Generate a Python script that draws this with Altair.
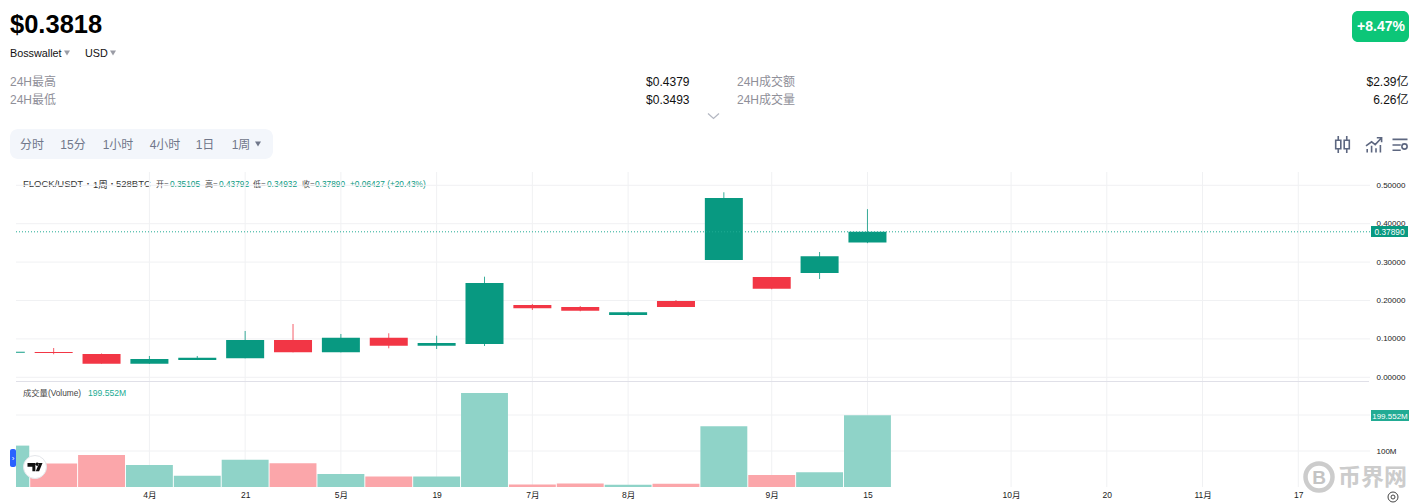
import altair as alt
import pandas as pd

FONT = "Liberation Sans, Noto Sans CJK SC, sans-serif"
UP, DOWN = "#089981", "#F23645"
UP_V, DOWN_V = "#8fd3c8", "#fba6aa"
GRID = "#f0f1f3"

# ---------- data ----------
idx = list(range(19))
opens = [.0640,.0660,.0607,.0354,.0450,.0495,.0971,.0650,.1030,.0823,.0867,.1883,.1830,.1622,.1987,.3055,.2612,.2716,.35105]
closes = [.0665,.0630,.0354,.0477,.0510,.0971,.0650,.1030,.0823,.0893,.2456,.1797,.1734,.1693,.1831,.4669,.2307,.3151,.37890]
highs = [.0665,.0763,.0620,.0555,.0555,.1206,.1388,.1128,.1146,.1083,.2620,.1909,.1857,.1708,.2013,.4818,.2612,.3263,.43792]
lows = [.0640,.0600,.0354,.0350,.0450,.0495,.0650,.0650,.0755,.0737,.0815,.1753,.1719,.1596,.1831,.3055,.2292,.2560,.34932]
volumes = [115,65,89,61,31,76,66,36,29.5,29.5,261,7,9.5,6,9,169,33,41,199.552]
price_ticks = [0,.1,.2,.3,.4,.5]
vol_ticks = [0,100,200]
last_close = .37890
x_tick_idx = [3,5,7,9,11,13,16,18,21,23,25,27]
x_tick_txt = ["4月","21","5月","19","7月","8月","9月","15","10月","20","11月","17"]

df = pd.DataFrame({"i":idx,"o":opens,"c":closes,"h":highs,"l":lows,"v":volumes})
df["up"] = df.c >= df.o
df["bl"] = df.i - .397
df["br"] = df.i + .397
df["vl"] = df.i - .49
df["vr"] = df.i + .49
one = pd.DataFrame({"a":[0]})

W, H = 1401, 496
# page px -> chart px is -8
BAR_STEP, BAR_BASE = 47.87, 5.8
xs = alt.Scale(domain=[(16-BAR_BASE)/BAR_STEP,(1367-BAR_BASE)/BAR_STEP], range=[8,1359], clamp=True, nice=False, zero=False)
ps = alt.Scale(domain=[0,.5], range=[369.3,177.3], nice=False, zero=False)
vs = alt.Scale(domain=[0,200], range=[479,407], nice=False, zero=False)
P = lambda f: alt.Y(f, type="quantitative", scale=ps, axis=None)
V = lambda f: alt.Y(f, type="quantitative", scale=vs, axis=None)
colr = alt.Color("up:N", legend=None, scale=alt.Scale(domain=[True,False], range=[UP,DOWN]))
colv = alt.Color("up:N", legend=None, scale=alt.Scale(domain=[True,False], range=[UP_V,DOWN_V]))

lookup = "{" + ",".join(f"'{i}':'{t}'" for i,t in zip(x_tick_idx,x_tick_txt)) + "}"
x_axis = alt.Axis(values=x_tick_idx, labelExpr=f"{lookup}[''+datum.value]", grid=False, domain=False, ticks=False,
                  labelFont=FONT, labelFontSize=8.5, labelColor="#222", offset=-17, labelPadding=3, labelFlush=False,
                  labelOverlap=False, title=None)
X = lambda f: alt.X(f, type="quantitative", scale=xs, title=None, axis=x_axis)

def lab(t,x,y,size=12,color="#111",weight="normal",align="left",font=FONT):
    return alt.Chart(one).mark_text(text=t,x=x-8,y=y-8,fontSize=size,color=color,fontWeight=weight,align=align,baseline="alphabetic",font=font)
def box(x1,y1,x2,y2,color,r=0):
    return alt.Chart(one).mark_rect(color=color,cornerRadius=r).encode(x=alt.value(x1-8),x2=alt.value(x2-8),y=alt.value(y1-8),y2=alt.value(y2-8))
def sym(shape,x,y,px,fill=None,stroke=None,sw=1.2):
    kw = dict(shape=shape,x=x-8,y=y-8,size=px*px,opacity=1)
    if fill: kw.update(fill=fill,filled=True,strokeWidth=0)
    if stroke: kw.update(stroke=stroke,strokeWidth=sw,filled=False)
    if fill and stroke: kw.update(fill=fill,filled=True,stroke=stroke,strokeWidth=sw)
    return alt.Chart(one).mark_point(**kw)

layers = []
GR = "#8f8f99"; TX = "#111"; BT = "#70778a"; IC = "#5d6780"
layers += [
 lab("$0.3818",10,33,25.5,"#000","bold"),
 lab("Bosswallet",10,57,10.8,TX), sym("triangle-down",67,53,6,fill="#9a9ca5"),
 lab("USD",85,57,10.8,TX), sym("triangle-down",113,53,6,fill="#9a9ca5"),
 box(1352,11,1409,42,"#0cc678",6),
 lab("+8.47%",1381,31,14,"#fff","bold","center"),
 lab("24H最高",10,86,12,GR), lab("24H最低",10,104,12,GR),
 lab("$0.4379",689.5,86,12,TX,align="right"), lab("$0.3493",689.5,104,12,TX,align="right"),
 lab("24H成交额",737,86,12,GR), lab("24H成交量",737,104,12,GR),
 lab("$2.39亿",1408.5,86,12,TX,align="right"), lab("6.26亿",1408.5,104,12,TX,align="right"),
 sym("M -1 -0.45 L 0 0.45 L 1 -0.45",713.5,116,11,stroke="#b4b8c2",sw=1.3),
 box(10,129,273,159,"#f3f6fb",8),
]
for t,x in zip(["分时","15分","1小时","4小时","1日","1周"],[32,73,118,165,205,241]):
    layers.append(lab(t,x,149,12,BT,align="center"))
layers.append(sym("triangle-down",258,144,6,fill=BT))
candle = ("M -0.5 -1 L -0.5 -0.5 M -0.5 0.5 L -0.5 1 M -0.8 -0.5 L -0.2 -0.5 L -0.2 0.5 L -0.8 0.5 Z "
          "M 0.5 -1 L 0.5 -0.5 M 0.5 0.5 L 0.5 1 M 0.2 -0.5 L 0.8 -0.5 L 0.8 0.5 L 0.2 0.5 Z")
trend = "M -1 0.1 L -0.3 -0.4 L 0.15 -0.05 L 0.9 -0.85 M 0.35 -0.9 L 0.95 -0.9 L 0.95 -0.35 M -0.85 0.95 L -0.85 0.5 M -0.3 0.95 L -0.3 0.1 M 0.25 0.95 L 0.25 0.4 M 0.8 0.95 L 0.8 0.0"
sett = "M -1 -0.75 L 1 -0.75 M -1 0 L 0.1 0 M -1 0.7 L 0.1 0.7 M 0.25 0.2 A 0.35 0.35 0 1 0 0.95 0.2 A 0.35 0.35 0 1 0 0.25 0.2"
layers += [sym(candle,1342.5,144.5,17,stroke=IC,sw=1.6), sym(trend,1374,145,16,stroke=IC,sw=1.6), sym(sett,1400,145,15,stroke=IC,sw=1.6)]
layers += [
 lab("FLOCK/USDT",23,187,9.5,"#333"), lab("・",84,187,8,"#333"), lab("1周",93,188,9.5,"#333"), lab("・",108,187,8,"#333"), lab("528BTC",116,187,9.5,"#333"),
]
TEAL = "#089981"
for t,x in zip(["开=","高=","低=","收="],[156,205,253,302]):
    layers.append(lab(t,x,187,8,"#444"))
for t,x in zip(["0.35105","0.43792","0.34932","0.37890","+0.06427 (+20.43%)"],[170,219,267,315,350]):
    layers.append(lab(t,x,187,8.3,TEAL))
layers += [lab("成交量(Volume)",23,396,8.3,"#444"), lab("199.552M",88,396,8.6,"#22ab94")]

pg = pd.DataFrame({"y":price_ticks})
vg = pd.DataFrame({"y":vol_ticks[1:]})
layers.append(alt.Chart(pg).mark_rule(color=GRID,strokeWidth=1).encode(x=alt.value(8),x2=alt.value(1362),y=P("y")))
layers.append(alt.Chart(vg).mark_rule(color=GRID,strokeWidth=1).encode(x=alt.value(8),x2=alt.value(1362),y=V("y")))
gx = pd.DataFrame({"i":x_tick_idx})
layers.append(alt.Chart(gx).mark_rule(color=GRID,strokeWidth=1).encode(x=X("i"),y=alt.value(164),y2=alt.value(479)))
layers.append(box(16,381,1369,382,"#e0e0e8"))
layers.append(alt.Chart(df).mark_rect(strokeWidth=0).encode(x=X("vl"),x2="vr",y=V("v"),y2=alt.datum(0),color=colv))
layers.append(alt.Chart(df[df.i>0]).mark_rule(strokeWidth=1,opacity=.8).encode(x=X("i"),y=P("h"),y2="l",color=colr))
layers.append(alt.Chart(df).mark_rect(strokeWidth=0).encode(x=X("bl"),x2="br",y=P("o"),y2="c",color=colr))
layers.append(alt.Chart(pd.DataFrame({"y":[last_close]})).mark_rule(color="#22ab94",strokeWidth=1,strokeDash=[1,2]).encode(x=alt.value(8),x2=alt.value(1363),y=P("y")))
layers.append(alt.Chart(pg).mark_text(opacity=0).encode(
    y=alt.Y("y",type="quantitative",scale=ps,axis=alt.Axis(orient="right",values=price_ticks,format=".5f",grid=False,domain=False,ticks=False,labelFont=FONT,labelFontSize=8,labelColor="#222",offset=-33,labelPadding=0,title=None))))
layers.append(alt.Chart(vg).mark_text(opacity=0).encode(
    y=alt.Y("y",type="quantitative",scale=vs,axis=alt.Axis(orient="right",values=[100],labelExpr="datum.value+'M'",grid=False,domain=False,ticks=False,labelFont=FONT,labelFontSize=8,labelColor="#222",offset=-33,labelPadding=0,title=None))))
layers += [box(1371,226,1408,237,UP), lab("0.37890",1389.5,234.5,8.3,"#fff",align="center"),
           box(1371,410,1409,421,"#22ab94"), lab("199.552M",1390,418.5,8,"#fff",align="center")]
tvlogo = "M -1 -0.55 L 0.05 -0.55 L 0.05 0.55 L -0.35 0.55 L -0.35 -0.05 L -1 -0.05 Z M 0.55 -0.55 L 1 -0.55 L 0.55 0.55 L 0.1 0.55 Z M 0.15 -0.55 A 0.2 0.2 0 1 0 0.45 -0.2 A 0.2 0.2 0 1 0 0.15 -0.55"
layers += [box(10,449,16,467,"#2962ff",2), lab("›",13,461,8,"#fff",align="center"),
           sym("circle",35,467,23,fill="#fff",stroke="#e4e6ea",sw=1), sym(tvlogo,35,467,15,fill="#111")]
layers += [sym("circle",1319,477,27,stroke="#cccccc",sw=4.5), lab("B",1319,484,19,"#c4c4c4","bold","center"),
           lab("币界网",1338,485,23,"#cccccc","bold",font="Noto Sans CJK SC"),
           sym("circle",1393,497,10,stroke="#444",sw=1), sym("circle",1393,497,4,stroke="#444",sw=1)]

chart = alt.layer(*layers).resolve_scale(y="independent",color="independent").properties(
    width=W,height=H,padding=0,background="white",autosize=alt.AutoSizeParams(type="none",contains="padding")
).configure_view(stroke=None)
chart.save("out.html", embed_options={"renderer":"svg","actions":False})
